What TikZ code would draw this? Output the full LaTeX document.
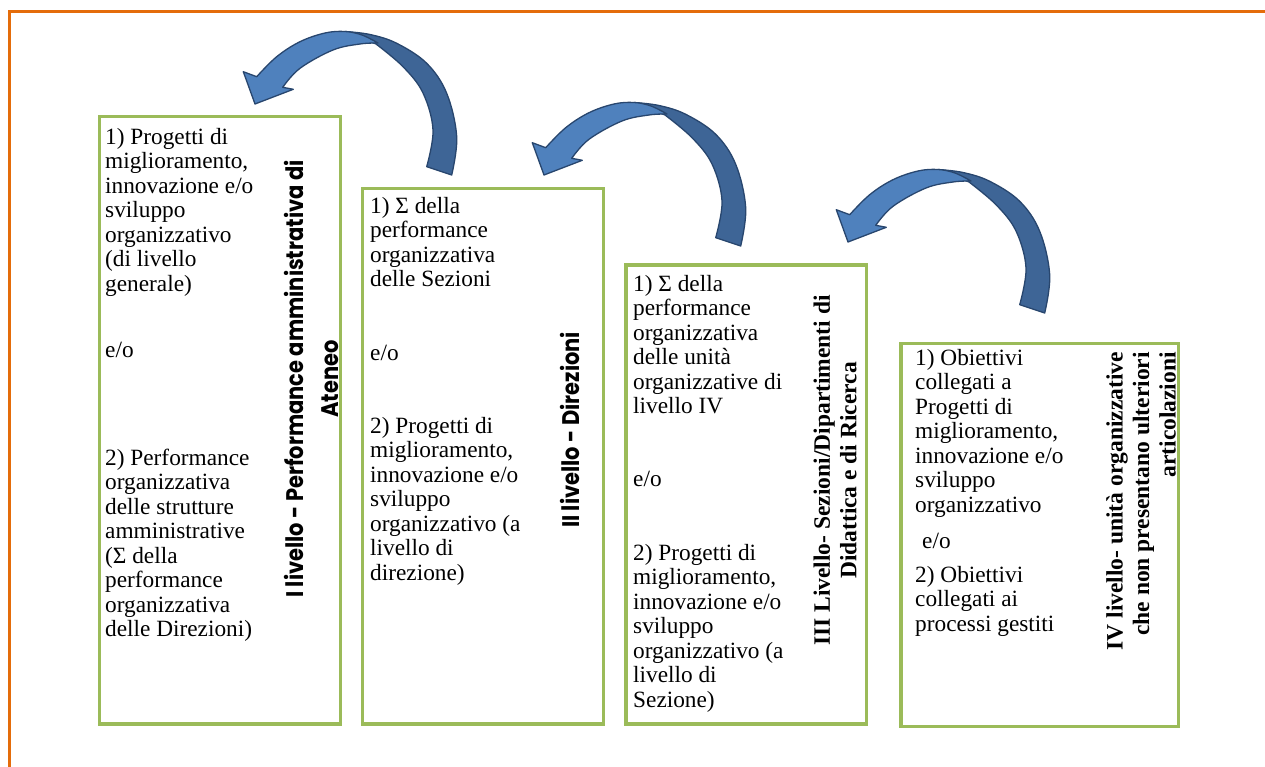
\documentclass[tikz,border=0pt]{standalone}
\usepackage{fontspec}
\setmainfont{Liberation Serif}
\newfontfamily\gothicfont[FakeStretch=0.875]{Poppins}
\definecolor{orangeline}{RGB}{228,108,10}
\definecolor{boxgreen}{RGB}{155,187,89}
\definecolor{arrowlight}{RGB}{79,129,189}
\definecolor{arrowdark}{RGB}{62,101,150}
\definecolor{arrowline}{RGB}{40,70,110}
\tikzset{
  body/.style={anchor=north west, inner sep=0pt, align=left, font={\fontsize{23.3}{24.5}\selectfont}},
  boxframe/.style={draw=boxgreen, line width=3.3pt, fill=white, inner sep=0pt, anchor=north west},
  serlabel/.style={rotate=90, inner sep=0pt, font={\bfseries\fontsize{23.5}{26.5}\selectfont}},
  gothlabel/.style={rotate=90, inner sep=0pt, font={\gothicfont\bfseries\fontsize{24}{35}\selectfont}},
  curvarrow/.pic={
    \fill[arrowdark, draw=arrowline, line width=1.3pt, line join=round]
      plot[smooth, tension=0.6] coordinates {(451.7,175) (456.7,136.7) (446.7,93.3) (426.7,63.3) (396.7,43.3) (370,34.5) (345,31.5)}
      -- plot[smooth, tension=0.6] coordinates {(376,44) (403,66.7) (423,93) (433,130) (426.7,166.7)} -- cycle;
    \fill[arrowlight, draw=arrowline, line width=1.3pt, line join=round]
      (243.3,71.7) -- (256.7,76.7)
      -- plot[smooth, tension=0.6] coordinates {(256.7,76.7) (276.7,56.7) (300,41.7) (325,33) (345,31.5) (362,35) (378,43)}
      -- plot[smooth, tension=0.6] coordinates {(378,43) (360,44) (333,50) (300,68.3) (282.7,87.3)}
      -- (293.3,89.3) -- (255,104) -- cycle;
  }
}
\begin{document}
\begin{tikzpicture}[x=1pt,y=-1pt]
\useasboundingbox[fill=white] (0,0) rectangle (1265,767);
\draw[orangeline, line width=3pt] (9.3,767) -- (9.3,11.7) -- (1265,11.7);

% boxes
\node[boxframe, minimum width=241pt, minimum height=607.3pt] (b1) at (97.7,115) {};
\node[boxframe, minimum width=240.7pt, minimum height=535.3pt] (b2) at (361,187) {};
\node[boxframe, minimum width=240.7pt, minimum height=459pt] (b3) at (624.3,263.3) {};
\node[boxframe, minimum width=277.2pt, minimum height=383pt] (b4) at (899.3,342) {};

% arrows
\pic at (0,0) {curvarrow};
\pic at (289,71) {curvarrow};
\pic at (593,138) {curvarrow};

% box 1 text
\node[body] (t1a) at (105,126.85) {\strut 1) Progetti di\\miglioramento,\\innovazione e/o\\sviluppo\\organizzativo\\(di livello\\generale)};
\node[body] (t1b) at (105,339.85) {\strut e/o};
\node[body] (t1c) at (105,447.85) {\strut 2) Performance\\organizzativa\\delle strutture\\amministrative\\(Σ della\\performance\\organizzativa\\delle Direzioni)};
\node[gothlabel, align=center] (l1) at (311,379) {I livello - Performance amministrativa di\\Ateneo};

% box 2 text
\node[body] (t2a) at (370,195.85) {\strut 1) Σ della\\performance\\organizzativa\\delle Sezioni};
\node[body] (t2b) at (370,342.85) {\strut e/o};
\node[body] (t2c) at (370,415.85) {\strut 2) Progetti di\\miglioramento,\\innovazione e/o\\sviluppo\\organizzativo (a\\livello di\\direzione)};
\node[gothlabel] (l2) at (570,430) {II livello - Direzioni};

% box 3 text
\node[body] (t3a) at (633,273.85) {\strut 1) Σ della\\performance\\organizzativa\\delle unità\\organizzative di\\livello IV};
\node[body] (t3b) at (633,468.85) {\strut e/o};
\node[body] (t3c) at (633,542.85) {\strut 2) Progetti di\\miglioramento,\\innovazione e/o\\sviluppo\\organizzativo (a\\livello di\\Sezione)};
\node[serlabel, align=center] (l3) at (835,470.5) {III Livello- Sezioni/Dipartimenti di\\Didattica e di Ricerca};

% box 4 text
\node[body] (t4a) at (915,347.85) {\strut 1) Obiettivi\\collegati a\\Progetti di\\miglioramento,\\innovazione e/o\\sviluppo\\organizzativo};
\node[body] (t4b) at (922,530.85) {\strut e/o};
\node[body] (t4c) at (915,564.85) {\strut 2) Obiettivi\\collegati ai\\processi gestiti};
\node[serlabel, align=right, anchor=east] (l4) at (1141,352) {IV livello- unità organizzative\\che non presentano ulteriori\\articolazioni};
\end{tikzpicture}
\end{document}
